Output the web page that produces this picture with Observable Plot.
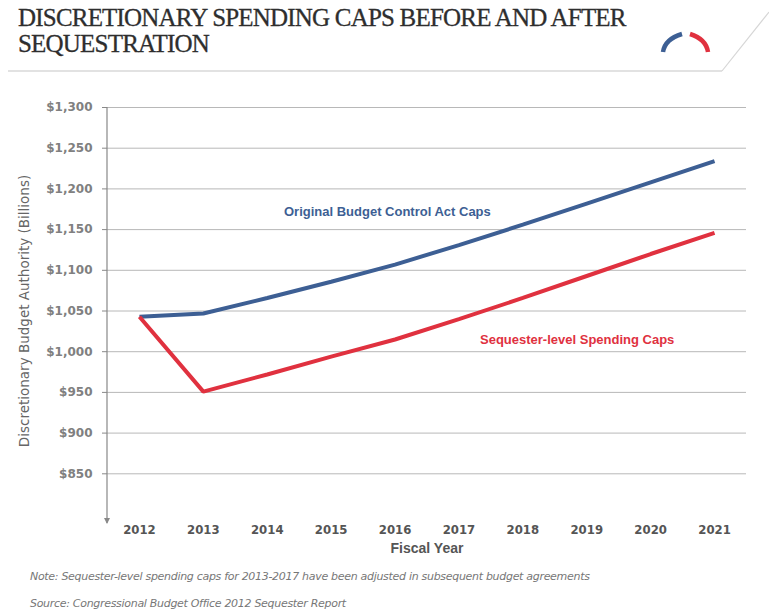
<!DOCTYPE html>
<html>
<head>
<meta charset="utf-8">
<script src="https://cdn.jsdelivr.net/npm/d3@7"></script>
<script src="https://cdn.jsdelivr.net/npm/@observablehq/plot@0.6"></script>
<style>
  html, body { margin: 0; padding: 0; background: #fff; }
  #page { position: relative; width: 769px; height: 612px; overflow: hidden; font-family: "Liberation Sans", sans-serif; }
  #header { position: absolute; left: 0; top: 0; width: 769px; height: 80px; }
  #title { position: absolute; left: 18px; top: 5px; font-family: "Liberation Serif", serif; font-size: 25px; line-height: 26px; color: #2e2e2e; letter-spacing: -0.8px; -webkit-text-stroke: 0.3px #2e2e2e; }
  #chart { position: absolute; left: 0; top: 78px; }
  .note { position: absolute; left: 30px; font-style: italic; font-size: 11px; color: #777; font-family: "DejaVu Sans", sans-serif; letter-spacing: -0.3px; }
</style>
</head>
<body>
<div id="page">
  <div id="header">
    <svg width="769" height="80" style="position:absolute;left:0;top:0">
      <line x1="8" y1="71" x2="722" y2="71" stroke="#e2e2e2" stroke-width="2"/>
      <line x1="722" y1="71" x2="769" y2="12" stroke="#d6d6d6" stroke-width="1.2"/>
      <path d="M663,52 Q665,39 682,34" fill="none" stroke="#3d5f94" stroke-width="4.5"/>
      <path d="M690,34 Q706,39 708,52" fill="none" stroke="#e0313f" stroke-width="4.5"/>
    </svg>
    <div id="title">DISCRETIONARY SPENDING CAPS BEFORE AND AFTER<br>SEQUESTRATION</div>
  </div>
  <div id="chart"></div>
  <div class="note" style="top:570px">Note: Sequester-level spending caps for 2013-2017 have been adjusted in subsequent budget agreements</div>
  <div class="note" style="top:597px">Source: Congressional Budget Office 2012 Sequester Report</div>
</div>
<script>
const years = [2012, 2013, 2014, 2015, 2016, 2017, 2018, 2019, 2020, 2021];
const originalCaps = [1043, 1047, 1066, 1086, 1107, 1131, 1156, 1182, 1208, 1234];
const sequesterCaps = [1043, 951, 972, 994, 1015, 1040, 1066, 1093, 1120, 1146];
const yTicks = [850, 900, 950, 1000, 1050, 1100, 1150, 1200, 1250, 1300];
const seriesNames = ["Original Budget Control Act Caps", "Sequester-level Spending Caps"];
const seriesColors = ["#3d5f94", "#e0313f"];
const labelYears = [2015.88, 2018.85];
const labelValues = [1172, 1015];

const data = [];
years.forEach((y, i) => {
  data.push({year: y, value: originalCaps[i], series: seriesNames[0]});
  data.push({year: y, value: sequesterCaps[i], series: seriesNames[1]});
});
const labels = seriesNames.map((s, i) => ({series: s, year: labelYears[i], value: labelValues[i], color: seriesColors[i]}));

const plot = Plot.plot({
  width: 769,
  height: 482,
  marginLeft: 107,
  marginRight: 23,
  marginTop: 29,
  marginBottom: 46,
  style: {fontFamily: "Liberation Sans, sans-serif", background: "transparent"},
  x: {domain: [2011.5, 2021.5]},
  y: {domain: [800, 1300]},
  color: {domain: seriesNames, range: seriesColors},
  marks: [
    Plot.gridY(yTicks, {stroke: "#9a9a9a", strokeOpacity: 0.7, strokeWidth: 1}),
    Plot.axisY(yTicks, {
      tickFormat: d => "$" + d3.format(",")(d),
      tickSize: 5, tickPadding: 10, stroke: "#888",
      fontSize: 12, fontWeight: "bold", fill: "#808080", fontFamily: "DejaVu Sans, sans-serif",
      label: "Discretionary Budget Authority (Billions)",
      labelAnchor: "center", labelArrow: "none", labelOffset: 88
    }),
    Plot.axisX(years, {
      tickFormat: d => String(d), tickSize: 0, tickPadding: 10,
      fontSize: 13, fontWeight: "bold", fill: "#555", fontFamily: "DejaVu Sans Condensed, DejaVu Sans, sans-serif",
      label: "Fiscal Year", labelAnchor: "center", labelArrow: "none", labelOffset: 38
    }),
    Plot.line(data, {x: "year", y: "value", stroke: "series", strokeWidth: 4, strokeLinejoin: "miter", strokeLinecap: "butt"}),
    Plot.text(labels, {x: "year", y: "value", text: "series", fill: "color", fontSize: 13, fontWeight: "bold"})
  ]
});
document.getElementById("chart").appendChild(plot);

// y-axis line with downward arrow at the left frame edge
const ys = plot.scale("y");
const svg = d3.select(plot);
const x0 = 107;
const yTop = ys.apply(1300), yBot = ys.apply(800) + 9;
svg.append("line").attr("x1", x0).attr("x2", x0).attr("y1", yTop).attr("y2", yBot)
  .attr("stroke", "#888").attr("stroke-width", 1.2);
svg.append("path").attr("d", `M${x0-3},${yBot-5} L${x0+3},${yBot-5} L${x0},${yBot+1} Z`).attr("fill", "#888");
svg.select("g[aria-label='y-axis label']").attr("font-family", "DejaVu Sans, sans-serif").attr("font-size", 13.5).attr("fill", "#666").attr("font-weight", "normal");
svg.select("g[aria-label='x-axis label']").attr("font-size", 14).attr("font-weight", "bold").attr("fill", "#555").attr("font-family", "Liberation Sans, sans-serif");
</script>
</body>
</html>
